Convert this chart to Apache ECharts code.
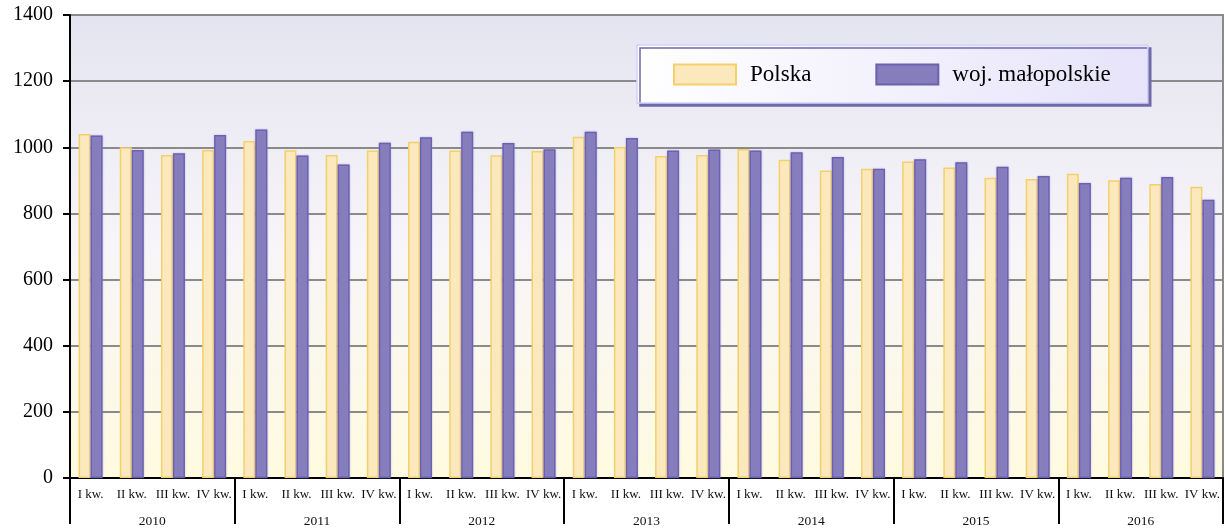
<!DOCTYPE html>
<html>
<head>
<meta charset="utf-8">
<script src="https://cdn.jsdelivr.net/npm/echarts@6/dist/echarts.min.js"></script>
<style>
  html, body { margin: 0; padding: 0; background: #fff; }
  #main { width: 1225px; height: 528px; }
</style>
</head>
<body>
<div id="main"></div>
<script>
var quarters = ["I kw.", "II kw.", "III kw.", "IV kw."];
var years = ["2010", "2011", "2012", "2013", "2014", "2015", "2016"];

var polska = [
  1040, 1000, 977, 992,
  1019, 991, 977, 990,
  1017, 990, 976, 989,
  1032, 1001, 974, 977,
  995, 962, 930, 935,
  957, 939, 908, 904,
  920, 900, 889, 881
];
var malopolskie = [
  1036, 992, 982, 1037,
  1054, 975, 948, 1014,
  1030, 1047, 1013, 994,
  1047, 1028, 990, 993,
  990, 985, 971, 935,
  964, 955, 941, 913,
  892, 908, 910, 841
];

var categories = [];
years.forEach(function (y) {
  quarters.forEach(function (q) {
    categories.push(q);
  });
});

var serif = "'Liberation Serif', 'Times New Roman', serif";

var option = {
  animation: false,
  backgroundColor: "#ffffff",
  grid: {
    left: 70,
    right: 2,
    top: 15,
    bottom: 45,
    show: true,
    borderWidth: 2,
    borderColor: "#8a8a8a",
    backgroundColor: new echarts.graphic.LinearGradient(0, 0, 0, 1, [
      { offset: 0, color: "#e4e4f1" },
      { offset: 0.5, color: "#f7f5f8" },
      { offset: 1, color: "#fffbe0" },
    ]),
  },
  legend: {
    left: 637,
    top: 45,
    padding: [18, 37, 17, 36],
    itemWidth: 62,
    itemHeight: 20,
    itemGap: 64,
    icon: "rect",
    borderColor: "#d2d2fa",
    borderWidth: 1.5,
    shadowColor: "#6f6aa8",
    shadowBlur: 0,
    shadowOffsetX: 3,
    shadowOffsetY: 3,
    backgroundColor: new echarts.graphic.LinearGradient(0, 0, 1, 1, [
      { offset: 0, color: "#ffffff" },
      { offset: 1, color: "#e6e3fa" },
    ]),
    textStyle: {
      fontFamily: serif,
      fontSize: 23,
      color: "#000",
      padding: [0, 0, 0, 9],
    },
    data: ["Polska", "woj. małopolskie"],
  },
  xAxis: [
    {
      type: "category",
      data: categories,
      position: "bottom",
      axisLine: { lineStyle: { color: "#000", width: 2 } },
      axisTick: { show: false },
      axisLabel: {
        interval: 0,
        margin: 10,
        fontFamily: serif,
        fontSize: 13,
        color: "#111",
      },
      splitLine: { show: false },
    },
    {
      type: "category",
      data: years,
      position: "bottom",
      axisLine: { show: false },
      axisTick: {
        show: true,
        length: 46,
        lineStyle: { color: "#000", width: 2 },
      },
      axisLabel: {
        interval: 0,
        margin: 36,
        fontFamily: serif,
        fontSize: 13.5,
        color: "#111",
      },
      splitLine: { show: false },
    },
  ],
  yAxis: {
    type: "value",
    min: 0,
    max: 1400,
    interval: 200,
    axisLine: { show: true, lineStyle: { color: "#000", width: 2 } },
    axisTick: { show: true, length: 7, lineStyle: { color: "#000", width: 2 } },
    axisLabel: {
      margin: 17,
      fontFamily: serif,
      fontSize: 20,
      color: "#000",
      formatter: function (v) {
        return String(v);
      },
    },
    splitLine: { show: true, lineStyle: { color: "#8a8a8a", width: 2 } },
  },
  series: [
    {
      name: "Polska",
      type: "bar",
      xAxisIndex: 0,
      data: polska,
      barWidth: 12,
      barGap: "0%",
      itemStyle: {
        color: "#fbe9bd",
        borderColor: "#f4d06c",
        borderWidth: 1.5,
      },
    },
    {
      name: "woj. małopolskie",
      type: "bar",
      xAxisIndex: 0,
      data: malopolskie,
      barWidth: 12,
      barGap: "0%",
      itemStyle: {
        color: "#867dbc",
        borderColor: "#6c61ae",
        borderWidth: 1.5,
        shadowColor: "rgba(150,140,220,0.6)",
        shadowBlur: 2,
      },
    },
  ],
};

var myChart = echarts.init(document.getElementById("main"));
myChart.setOption(option);
</script>
</body>
</html>
